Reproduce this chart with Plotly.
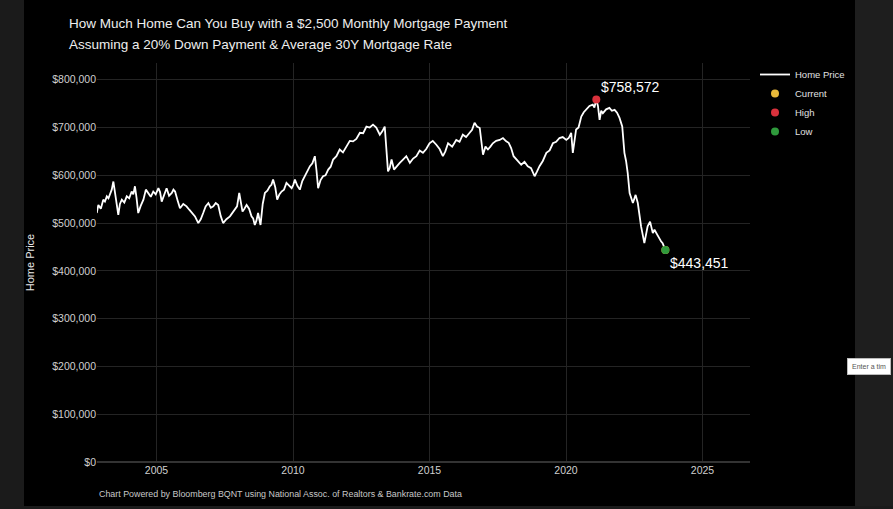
import plotly.graph_objects as go

# ---- data ----
years = [
    2002.81, 2002.87, 2002.96, 2003.05, 2003.11, 2003.18, 2003.24, 2003.30, 2003.36, 2003.42,
    2003.50, 2003.60, 2003.66, 2003.73, 2003.82, 2003.91, 2004.00, 2004.09, 2004.15, 2004.21,
    2004.27, 2004.33, 2004.42, 2004.52, 2004.61, 2004.70, 2004.79, 2004.88, 2004.97, 2005.07,
    2005.13, 2005.19, 2005.28, 2005.37, 2005.46, 2005.56, 2005.62, 2005.68, 2005.77, 2005.86,
    2005.98, 2006.10, 2006.20, 2006.29, 2006.41, 2006.53, 2006.62, 2006.71, 2006.80, 2006.90,
    2006.99, 2007.08, 2007.17, 2007.26, 2007.35, 2007.44, 2007.56, 2007.69, 2007.78, 2007.87,
    2007.95, 2008.03, 2008.09, 2008.15, 2008.22, 2008.30, 2008.39, 2008.48, 2008.54, 2008.60,
    2008.66, 2008.72, 2008.81, 2008.89, 2008.97, 2009.06, 2009.15, 2009.21, 2009.27, 2009.35,
    2009.42, 2009.50, 2009.58, 2009.67, 2009.76, 2009.85, 2009.95, 2010.01, 2010.07, 2010.16,
    2010.25, 2010.34, 2010.43, 2010.52, 2010.62, 2010.71, 2010.80, 2010.86, 2010.92, 2011.01,
    2011.10, 2011.19, 2011.29, 2011.38, 2011.47, 2011.59, 2011.71, 2011.83, 2011.96, 2012.08,
    2012.20, 2012.32, 2012.45, 2012.57, 2012.69, 2012.81, 2012.93, 2013.05, 2013.18, 2013.27,
    2013.36, 2013.48, 2013.54, 2013.61, 2013.70, 2013.79, 2013.91, 2014.03, 2014.15, 2014.28,
    2014.40, 2014.52, 2014.64, 2014.76, 2014.88, 2015.00, 2015.12, 2015.25, 2015.37, 2015.49,
    2015.58, 2015.68, 2015.83, 2015.98, 2016.10, 2016.22, 2016.34, 2016.47, 2016.56, 2016.65,
    2016.74, 2016.84, 2016.96, 2017.05, 2017.14, 2017.23, 2017.32, 2017.44, 2017.57, 2017.69,
    2017.81, 2017.90, 2017.99, 2018.08, 2018.18, 2018.27, 2018.36, 2018.48, 2018.60, 2018.72,
    2018.85, 2018.94, 2019.03, 2019.15, 2019.28, 2019.40, 2019.52, 2019.64, 2019.76, 2019.88,
    2020.01, 2020.10, 2020.19, 2020.25, 2020.37, 2020.46, 2020.56, 2020.65, 2020.74, 2020.86,
    2020.98, 2021.04, 2021.11, 2021.17, 2021.23, 2021.29, 2021.35, 2021.47, 2021.59, 2021.68,
    2021.78, 2021.87, 2021.96, 2022.06, 2022.14, 2022.20, 2022.26, 2022.33, 2022.45, 2022.55,
    2022.63, 2022.75, 2022.87, 2022.99, 2023.08, 2023.18, 2023.24, 2023.30, 2023.36, 2023.42,
    2023.48, 2023.54, 2023.64,
]
prices = [
    521000, 538000, 530000, 549000, 545000, 556000, 552000, 563000, 570000, 587000,
    560000, 517000, 540000, 549000, 543000, 556000, 552000, 566000, 560000, 577000,
    552000, 521000, 536000, 549000, 570000, 563000, 555000, 566000, 560000, 573000,
    565000, 545000, 560000, 573000, 557000, 563000, 570000, 566000, 548000, 531000,
    540000, 535000, 528000, 521000, 514000, 500000, 508000, 521000, 535000, 542000,
    532000, 535000, 542000, 538000, 515000, 500000, 508000, 514000, 522000, 528000,
    535000, 563000, 545000, 524000, 530000, 538000, 530000, 514000, 510000, 496000,
    505000, 521000, 496000, 540000, 563000, 568000, 577000, 580000, 591000, 575000,
    549000, 560000, 566000, 570000, 584000, 578000, 573000, 580000, 591000, 578000,
    570000, 588000, 598000, 605000, 619000, 625000, 640000, 610000, 573000, 590000,
    598000, 600000, 612000, 618000, 633000, 640000, 654000, 648000, 661000, 672000,
    671000, 676000, 689000, 688000, 702000, 700000, 706000, 700000, 685000, 692000,
    702000, 608000, 615000, 633000, 612000, 619000, 626000, 633000, 640000, 626000,
    635000, 640000, 652000, 647000, 655000, 667000, 672000, 664000, 655000, 640000,
    650000, 667000, 660000, 674000, 670000, 685000, 680000, 689000, 695000, 710000,
    702000, 699000, 643000, 660000, 654000, 660000, 667000, 672000, 674000, 678000,
    671000, 668000, 657000, 640000, 633000, 628000, 622000, 628000, 619000, 615000,
    598000, 608000, 619000, 630000, 647000, 652000, 667000, 670000, 678000, 680000,
    674000, 678000, 689000, 647000, 696000, 700000, 723000, 732000, 737000, 745000,
    748000, 742000, 758572, 745000, 716000, 735000, 730000, 738000, 741000, 735000,
    737000, 731000, 720000, 702000, 647000, 630000, 605000, 563000, 542000, 559000,
    542000, 493000, 458000, 493000, 503000, 479000, 486000, 479000, 472000, 468000,
    462000, 458000, 443451,
]
current_year, current_price = 2023.64, 443451
high_year, high_price = 2021.11, 758572
low_year, low_price = 2023.64, 443451

year_ticks = [2005, 2010, 2015, 2020, 2025]
price_ticks = [0, 100000, 200000, 300000, 400000, 500000, 600000, 700000, 800000]
price_labels = ["$0", "$100,000", "$200,000", "$300,000", "$400,000",
                "$500,000", "$600,000", "$700,000", "$800,000"]

title_line1 = "How Much Home Can You Buy with a $2,500 Monthly Mortgage Payment"
title_line2 = "Assuming a 20% Down Payment & Average 30Y Mortgage Rate"
footer = "Chart Powered by Bloomberg BQNT using National Assoc. of Realtors & Bankrate.com Data"
input_hint = "Enter a tim"

FONT = "Liberation Sans, Arial, sans-serif"

fig = go.Figure()
fig.add_trace(go.Scatter(x=years, y=prices, mode="lines", name="Home Price",
                         line=dict(color="white", width=1.8)))
fig.add_trace(go.Scatter(x=[current_year], y=[current_price], mode="markers", name="Current",
                         marker=dict(color="#e8b93a", size=8)))
fig.add_trace(go.Scatter(x=[high_year], y=[high_price], mode="markers", name="High",
                         marker=dict(color="#d9313c", size=8)))
fig.add_trace(go.Scatter(x=[low_year], y=[low_price], mode="markers", name="Low",
                         marker=dict(color="#2f9a3c", size=8)))

W, H = 893, 509
L, R, T, B = 97, 143, 63, 47
pw, ph = W - L - R, H - T - B

def px_x(p):
    return (p - L) / pw

def px_y(p):
    return (H - B - p) / ph

shapes = [
    dict(type="rect", xref="paper", yref="paper", x0=px_x(0), x1=px_x(24), y0=px_y(H), y1=px_y(0),
         fillcolor="#1b1b1b", line_width=0, layer="below"),
    dict(type="rect", xref="paper", yref="paper", x0=px_x(855), x1=px_x(W), y0=px_y(H), y1=px_y(0),
         fillcolor="#1e1e1e", line_width=0, layer="below"),
    dict(type="rect", xref="paper", yref="paper", x0=px_x(0), x1=px_x(W), y0=px_y(H), y1=px_y(506),
         fillcolor="#1b1b1b", line_width=0, layer="below"),
]

annotations = [
    dict(text=title_line1, xref="paper", yref="paper", x=px_x(67), y=px_y(24),
         xanchor="left", yanchor="middle", showarrow=False,
         font=dict(size=13.5, color="#eeeeee", family=FONT)),
    dict(text=title_line2, xref="paper", yref="paper", x=px_x(67), y=px_y(45),
         xanchor="left", yanchor="middle", showarrow=False,
         font=dict(size=13.5, color="#eeeeee", family=FONT)),
    dict(text=footer, xref="paper", yref="paper", x=0, y=px_y(494),
         xanchor="left", yanchor="middle", showarrow=False,
         font=dict(size=8.9, color="#c8c8c8", family=FONT)),
    dict(text=f"${high_price:,.0f}", x=high_year, y=high_price, xanchor="left", yanchor="bottom",
         xshift=3, yshift=3, showarrow=False, font=dict(size=14, color="white", family=FONT)),
    dict(text=f"${low_price:,.0f}", x=low_year, y=low_price, xanchor="left", yanchor="top",
         xshift=3, yshift=-3, showarrow=False, font=dict(size=14, color="white", family=FONT)),
    dict(text=input_hint, xref="paper", yref="paper", x=px_x(847), y=px_y(366),
         xanchor="left", yanchor="middle", showarrow=False, bgcolor="white",
         bordercolor="#bbbbbb", borderwidth=1, borderpad=4,
         font=dict(size=7, color="#555555", family=FONT)),
]

fig.update_layout(
    width=W, height=H, autosize=False,
    margin=dict(l=L, r=R, t=T, b=B, pad=0),
    paper_bgcolor="black", plot_bgcolor="black",
    font=dict(family=FONT, color="#d8d8d8"),
    showlegend=True,
    legend=dict(x=px_x(755), y=px_y(60), xanchor="left", yanchor="top",
                bgcolor="rgba(0,0,0,0)", font=dict(size=9.5, color="#e0e0e0"),
                tracegroupgap=0),
    shapes=shapes,
    annotations=annotations,
    xaxis=dict(range=[2002.82, 2026.74], tickvals=year_ticks, ticktext=[str(y) for y in year_ticks],
               showgrid=True, gridcolor="#242424", gridwidth=1, zeroline=False, showline=False,
               ticks="", tickfont=dict(size=10.5, color="#d0d0d0")),
    yaxis=dict(range=[0, 835000], tickvals=price_ticks, ticktext=price_labels,
               showgrid=True, gridcolor="#242424", gridwidth=1,
               zeroline=True, zerolinecolor="#333333", zerolinewidth=1.5, showline=False,
               ticks="", tickfont=dict(size=10.5, color="#d0d0d0"),
               title=dict(text="Home Price", font=dict(size=11, color="#e8e8e8"))),
)

fig.write_html("out.html")
